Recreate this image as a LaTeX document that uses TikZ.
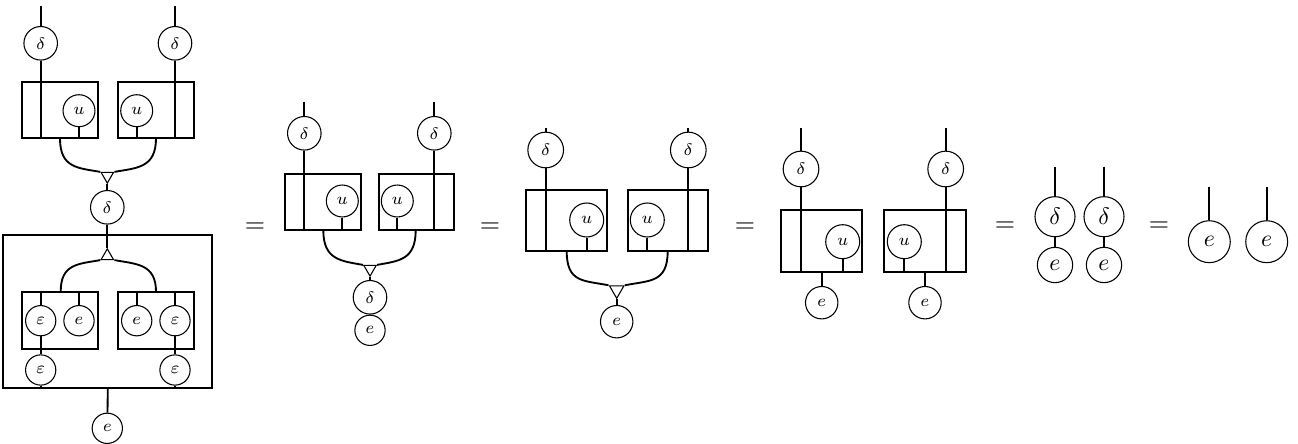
\documentclass[tikz,border=0pt]{standalone}
\usetikzlibrary{shapes.geometric,fit}
\tikzset{
 wire/.style={line width=0.78pt},
 bead/.style={circle, draw, line width=0.45pt, inner sep=2.8pt},
 sA/.style={bead, font=\fontsize{7}{8}\selectfont},
 sB/.style={bead, font=\fontsize{7.5}{8}\selectfont, inner sep=3.1pt},
 sC/.style={bead, font=\fontsize{10}{12}\selectfont, inner sep=3pt},
 sD/.style={bead, font=\fontsize{10}{12}\selectfont, inner sep=4pt},
 boxs/.style={draw, rectangle, line width=0.78pt, inner sep=0pt},
 multn/.style={regular polygon, regular polygon sides=3, shape border rotate=180, draw, line width=0.45pt, inner sep=0pt, minimum size=6pt},
 comultn/.style={regular polygon, regular polygon sides=3, draw, line width=0.45pt, inner sep=0pt, minimum size=6pt},
 eqs/.style={font=\fontsize{10.5}{12}\selectfont, inner sep=0pt},
}
\begin{document}
\begin{tikzpicture}[x=0.42pt,y=-0.42pt]
\useasboundingbox (0,0) rectangle (1298,444);
% ---------------- diagram 1 ----------------
\coordinate (a1t) at (40.7,6);
\coordinate (a2t) at (175,6);
\node[sA] (a1d) at (40.7,43.3) {$\delta$};
\node[sA] (a2d) at (175,43.3) {$\delta$};
\node[boxs, fit={(22.3,81.7) (98.3,138.3)}] (a1b) {};
\node[boxs, fit={(118.3,81.7) (194.3,138.3)}] (a2b) {};
\node[sA] (a1u) at (79,110.7) {$u$};
\node[sA] (a2u) at (136.7,110.7) {$u$};
\node[multn] (am) at (107.3,176) {};
\node[sA] (ad) at (107.3,207.3) {$\delta$};
\node[boxs, fit={(3.3,235) (212.3,388.3)}] (aB) {};
\node[comultn] (ac) at (107.3,256) {};
\node[boxs, fit={(22.3,291.7) (97.7,349.3)}] (a3b) {};
\node[boxs, fit={(118.3,291.7) (194.3,349.3)}] (a4b) {};
\node[sA] (a3x) at (40.7,320.7) {$\varepsilon$};
\node[sA] (a3e) at (79,320.7) {$e$};
\node[sA] (a4e) at (136.7,320.7) {$e$};
\node[sA] (a4x) at (175,320.7) {$\varepsilon$};
\node[sA] (a3y) at (40.7,370) {$\varepsilon$};
\node[sA] (a4y) at (175,370) {$\varepsilon$};
\node[sA] (aout) at (107.3,428.3) {$e$};
\coordinate (a1o) at (60,138.3);
\coordinate (a2o) at (156,138.3);
\coordinate (a3i) at (60.7,291.7);
\coordinate (a4i) at (156,291.7);
\draw[wire] (a1t) -- (a1d);
\draw[wire] (a1d) -- (a1d |- a1b.south);
\draw[wire] (a2t) -- (a2d);
\draw[wire] (a2d) -- (a2d |- a2b.south);
\draw[wire] (a1u) -- (a1u |- a1b.south);
\draw[wire] (a2u) -- (a2u |- a2b.south);
\draw[wire] (a1o) .. controls +(0,30) and +(-22,-4) .. (am.corner 3);
\draw[wire] (a2o) .. controls +(0,30) and +(22,-4) .. (am.corner 2);
\draw[wire] (am.corner 1) -- (ad);
\draw[wire] (ad) -- (ac.corner 1);
\draw[wire] (ac.corner 2) .. controls +(-22,4) and +(0,-28) .. (a3i);
\draw[wire] (ac.corner 3) .. controls +(22,4) and +(0,-28) .. (a4i);
\draw[wire] (a3x |- a3b.north) -- (a3x);
\draw[wire] (a3x) -- (a3y);
\draw[wire] (a3y) -- (a3y |- aB.south);
\draw[wire] (a4x |- a4b.north) -- (a4x);
\draw[wire] (a4x) -- (a4y);
\draw[wire] (a4y) -- (a4y |- aB.south);
\draw[wire] (a3e |- a3b.north) -- (a3e);
\draw[wire] (a4e |- a4b.north) -- (a4e);
\draw[wire] (aB.south) -- (aout);
% equals
\node[eqs] (q1) at (255,228) {$=$};
\node[eqs] (q2) at (490,228) {$=$};
\node[eqs] (q3) at (745,228) {$=$};
\node[eqs] (q4) at (1005,227) {$=$};
\node[eqs] (q5) at (1159,227) {$=$};
% ---------------- diagram 2 ----------------
\coordinate (b1t) at (304.3,101.7);
\coordinate (b2t) at (434.3,101.7);
\node[sA] (b1d) at (304.3,133.3) {$\delta$};
\node[sA] (b2d) at (434.3,133.3) {$\delta$};
\node[boxs, fit={(285,174) (360.7,230)}] (b1b) {};
\node[boxs, fit={(379,174) (454.3,230)}] (b2b) {};
\node[sA] (b1u) at (342.3,201) {$u$};
\node[sA] (b2u) at (397.3,201) {$u$};
\node[multn] (bm) at (370,269) {};
\node[sA] (bd) at (370,297.3) {$\delta$};
\node[sA] (be) at (370,330.3) {$e$};
\coordinate (b1o) at (323.3,230);
\coordinate (b2o) at (415.7,230);
\draw[wire] (b1t) -- (b1d);
\draw[wire] (b1d) -- (b1d |- b1b.south);
\draw[wire] (b2t) -- (b2d);
\draw[wire] (b2d) -- (b2d |- b2b.south);
\draw[wire] (b1u) -- (b1u |- b1b.south);
\draw[wire] (b2u) -- (b2u |- b2b.south);
\draw[wire] (b1o) .. controls +(0,30) and +(-22,-4) .. (bm.corner 3);
\draw[wire] (b2o) .. controls +(0,30) and +(22,-4) .. (bm.corner 2);
\draw[wire] (bm.corner 1) -- (bd);
\draw[wire] (bd) -- (be);
% ---------------- diagram 3 ----------------
\coordinate (c1t) at (545.7,128);
\coordinate (c2t) at (688.3,128);
\node[sB] (c1d) at (545.7,150) {$\delta$};
\node[sB] (c2d) at (688.3,150) {$\delta$};
\node[boxs, fit={(525.7,190) (606.7,251)}] (c1b) {};
\node[boxs, fit={(627.7,190) (708.3,251)}] (c2b) {};
\node[sB] (c1u) at (586.7,220) {$u$};
\node[sB] (c2u) at (647.3,220) {$u$};
\node[multn, minimum size=7pt] (cm) at (616.7,290) {};
\node[sB] (ce) at (616.7,321.7) {$e$};
\coordinate (c1o) at (566.7,251);
\coordinate (c2o) at (667.7,251);
\draw[wire] (c1t) -- (c1d);
\draw[wire] (c1d) -- (c1d |- c1b.south);
\draw[wire] (c2t) -- (c2d);
\draw[wire] (c2d) -- (c2d |- c2b.south);
\draw[wire] (c1u) -- (c1u |- c1b.south);
\draw[wire] (c2u) -- (c2u |- c2b.south);
\draw[wire] (c1o) .. controls +(0,32) and +(-25,-5) .. (cm.corner 3);
\draw[wire] (c2o) .. controls +(0,32) and +(25,-5) .. (cm.corner 2);
\draw[wire] (cm.corner 1) -- (ce);
% ---------------- diagram 4 ----------------
\coordinate (d1t) at (801,128);
\coordinate (d2t) at (945.7,128);
\node[sB] (d1d) at (801,169) {$\delta$};
\node[sB] (d2d) at (945.7,169) {$\delta$};
\node[boxs, fit={(780.7,210) (862.3,271.7)}] (d1b) {};
\node[boxs, fit={(884,210) (965.7,271.7)}] (d2b) {};
\node[sB] (d1u) at (842.7,241.7) {$u$};
\node[sB] (d2u) at (904.3,241.7) {$u$};
\node[sB] (d1e) at (821.7,302.7) {$e$};
\node[sB] (d2e) at (925,302.7) {$e$};
\draw[wire] (d1t) -- (d1d);
\draw[wire] (d1d) -- (d1d |- d1b.south);
\draw[wire] (d2t) -- (d2d);
\draw[wire] (d2d) -- (d2d |- d2b.south);
\draw[wire] (d1u) -- (d1u |- d1b.south);
\draw[wire] (d2u) -- (d2u |- d2b.south);
\draw[wire] (d1e |- d1b.south) -- (d1e);
\draw[wire] (d2e |- d2b.south) -- (d2e);
% ---------------- diagram 5 ----------------
\coordinate (e1t) at (1055,166.7);
\coordinate (e2t) at (1104,166.7);
\node[sC] (e1d) at (1055,216.7) {$\delta$};
\node[sC] (e2d) at (1104,216.7) {$\delta$};
\node[sC] (e1e) at (1055,265) {$e$};
\node[sC] (e2e) at (1104,265) {$e$};
\draw[wire] (e1t) -- (e1d);
\draw[wire] (e2t) -- (e2d);
\draw[wire] (e1d) -- (e1e);
\draw[wire] (e2d) -- (e2e);
% ---------------- diagram 6 ----------------
\coordinate (f1t) at (1209.3,186.7);
\coordinate (f2t) at (1266.7,186.7);
\node[sD] (f1e) at (1209.3,241.7) {$e$};
\node[sD] (f2e) at (1266.7,241.7) {$e$};
\draw[wire] (f1t) -- (f1e);
\draw[wire] (f2t) -- (f2e);
\end{tikzpicture}
\end{document}
